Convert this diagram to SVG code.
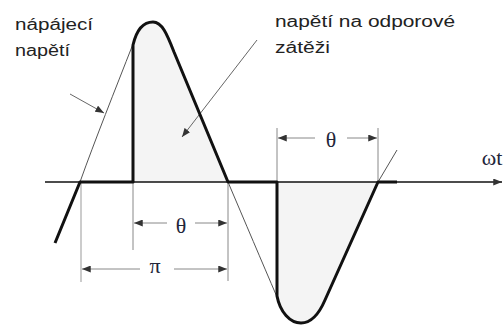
<svg xmlns="http://www.w3.org/2000/svg" width="504" height="326" viewBox="0 0 504 326">
<style>
.lbl{font-family:"Liberation Sans",Arial,sans-serif;font-size:16px;fill:#222}
.sym{font-family:"Liberation Serif","Times New Roman",serif;font-size:22px;fill:#23263a;text-anchor:middle}
.thin{fill:none;stroke:#555;stroke-width:1}
.thick{fill:none;stroke:#111;stroke-width:3;stroke-linejoin:round}
.dim{fill:none;stroke:#888;stroke-width:1}
.shade{fill:#f4f4f4;stroke:none}
</style>
<defs>
<marker id="ah" viewBox="0 0 10 8" refX="10" refY="4" markerWidth="9" markerHeight="7" markerUnits="userSpaceOnUse" orient="auto">
<path d="M0,0 L10,4 L0,8 Z" fill="#333"/>
</marker>
</defs>
<g id="shading">
<path class="shade" d="M133,182 L133,45 C137,28 145,22 153,22 C162,22 167,34 174,52 L228,182 Z"/>
<path class="shade" d="M277,182 L277,296 C280,312 290,323 301,323 C311,323 319,314 325,300 L378,182 Z"/>
</g>
<g id="connectors">
<line x1="45" y1="182" x2="502" y2="182" stroke="#111" stroke-width="1.5" marker-end="url(#ah)"/>
<path class="thin" d="M80,182 C95,140 115,90 133,44"/>
<path class="thin" d="M228,182 C245,222 262,262 277,297"/>
<path class="thin" d="M378,182 L397,150"/>
<line x1="81" y1="182" x2="81" y2="282" stroke="#ccc" stroke-width="2"/>
<line class="dim" x1="133" y1="182" x2="133" y2="250"/>
<line class="dim" x1="228" y1="182" x2="228" y2="281"/>
<line class="dim" x1="277" y1="128" x2="277" y2="182"/>
<line class="dim" x1="378" y1="128" x2="378" y2="182"/>
<line class="dim" x1="167" y1="223" x2="134" y2="223" marker-end="url(#ah)"/>
<line class="dim" x1="195" y1="223" x2="227" y2="223" marker-end="url(#ah)"/>
<line class="dim" x1="140" y1="269" x2="82" y2="269" marker-end="url(#ah)"/>
<line class="dim" x1="174" y1="269" x2="227" y2="269" marker-end="url(#ah)"/>
<line class="dim" x1="315" y1="138" x2="278" y2="138" marker-end="url(#ah)"/>
<line class="dim" x1="347" y1="138" x2="377" y2="138" marker-end="url(#ah)"/>
<line x1="70" y1="94" x2="104" y2="113" stroke="#666" stroke-width="1" marker-end="url(#ah)"/>
<line x1="257" y1="40" x2="182" y2="137" stroke="#666" stroke-width="1" marker-end="url(#ah)"/>
</g>
<g id="load-voltage">
<path class="thick" d="M55,243 L80,182 L133,182 L133,45 C137,28 145,22 153,22 C162,22 167,34 174,52 L228,182 L277,182 L277,296 C280,312 290,323 301,323 C311,323 319,314 325,300 L378,182 L397,182"/>
</g>
<g id="labels">
<text class="lbl" x="15" y="30" textLength="78" lengthAdjust="spacingAndGlyphs">nápájecí</text>
<text class="lbl" x="15" y="56" textLength="55" lengthAdjust="spacingAndGlyphs">napětí</text>
<text class="lbl" x="275" y="27" textLength="180" lengthAdjust="spacingAndGlyphs">napětí na odporové</text>
<text class="lbl" x="275" y="53" textLength="55" lengthAdjust="spacingAndGlyphs">zátěži</text>
<text class="sym" x="492" y="165">ωt</text>
<text class="sym" x="181" y="233">θ</text>
<text class="sym" x="155" y="273">π</text>
<text class="sym" x="331" y="147">θ</text>
</g>
</svg>
